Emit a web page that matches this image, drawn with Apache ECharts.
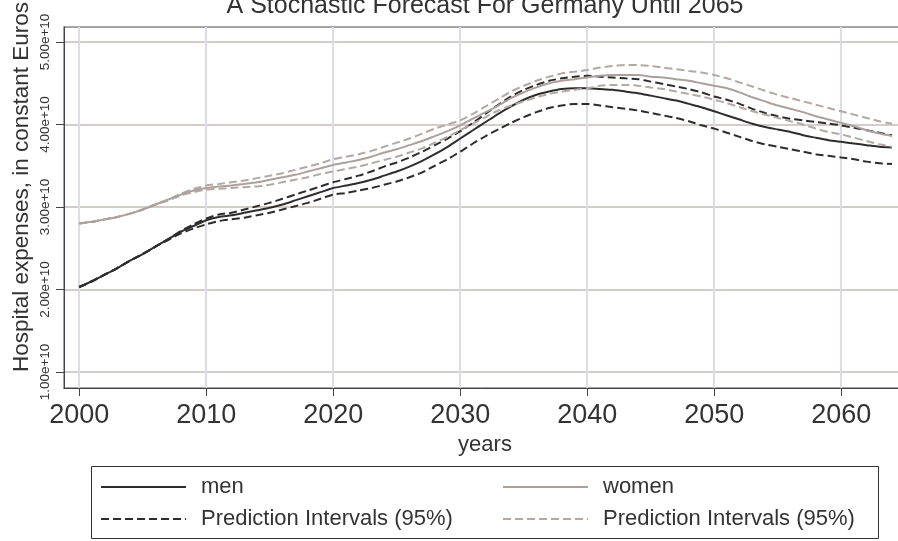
<!DOCTYPE html>
<html><head><meta charset="utf-8">
<script src="https://cdn.jsdelivr.net/npm/echarts@6/dist/echarts.min.js"></script>
<style>html,body{margin:0;padding:0;background:#fff}#c{width:898px;height:541px}</style>
</head><body><div id="c"></div>
<script>
// Years of the forecast
const years = [2000,2001,2002,2003,2004,2005,2006,2007,2008,2009,
  2010,2011,2012,2013,2014,2015,2016,2017,2018,2019,
  2020,2021,2022,2023,2024,2025,2026,2027,2028,2029,
  2030,2031,2032,2033,2034,2035,2036,2037,2038,2039,
  2040,2041,2042,2043,2044,2045,2046,2047,2048,2049,
  2050,2051,2052,2053,2054,2055,2056,2057,2058,2059,
  2060,2061,2062,2063,2064];

// Values in units of 1e10 constant Euros
const menMean = [2.03,2.10,2.18,2.26,2.35,2.43,2.52,2.61,2.70,2.77,
  2.84,2.88,2.90,2.93,2.96,2.99,3.03,3.08,3.13,3.18,
  3.23,3.26,3.29,3.33,3.38,3.43,3.49,3.56,3.64,3.73,
  3.83,3.93,4.03,4.13,4.22,4.30,4.36,4.40,4.43,4.44,
  4.44,4.43,4.42,4.40,4.38,4.35,4.32,4.29,4.25,4.21,
  4.16,4.11,4.06,4.01,3.97,3.94,3.91,3.87,3.84,3.81,
  3.79,3.77,3.75,3.73,3.72];
const menUpper = [2.03,2.10,2.18,2.26,2.35,2.43,2.52,2.61,2.71,2.79,
  2.86,2.91,2.93,2.97,3.01,3.05,3.10,3.15,3.20,3.25,
  3.30,3.34,3.38,3.43,3.49,3.54,3.60,3.67,3.75,3.83,
  3.92,4.02,4.13,4.24,4.34,4.42,4.48,4.53,4.56,4.58,
  4.59,4.58,4.57,4.56,4.55,4.52,4.49,4.46,4.43,4.39,
  4.34,4.30,4.25,4.19,4.14,4.10,4.07,4.05,4.03,4.01,
  3.99,3.96,3.93,3.90,3.87];
const menLower = [2.03,2.10,2.18,2.26,2.35,2.43,2.52,2.60,2.68,2.74,
  2.79,2.83,2.85,2.87,2.90,2.93,2.97,3.01,3.05,3.10,
  3.15,3.17,3.20,3.23,3.27,3.31,3.36,3.42,3.50,3.58,
  3.67,3.77,3.86,3.94,4.02,4.09,4.15,4.20,4.23,4.25,
  4.25,4.23,4.21,4.19,4.17,4.14,4.11,4.08,4.04,3.99,
  3.95,3.90,3.85,3.80,3.76,3.73,3.70,3.67,3.64,3.62,
  3.60,3.58,3.55,3.53,3.52];
const womenMean = [2.80,2.82,2.85,2.88,2.92,2.97,3.03,3.09,3.15,3.20,
  3.23,3.25,3.26,3.28,3.30,3.33,3.36,3.39,3.43,3.47,
  3.51,3.54,3.57,3.61,3.66,3.70,3.75,3.80,3.86,3.92,
  3.99,4.07,4.15,4.23,4.32,4.39,4.45,4.50,4.53,4.55,
  4.57,4.59,4.60,4.60,4.60,4.58,4.57,4.55,4.53,4.50,
  4.47,4.44,4.39,4.33,4.28,4.23,4.19,4.15,4.10,4.06,
  4.02,3.98,3.93,3.89,3.86];
const womenUpper = [2.80,2.82,2.85,2.88,2.92,2.97,3.03,3.09,3.16,3.22,
  3.26,3.28,3.30,3.32,3.35,3.38,3.41,3.45,3.49,3.53,
  3.58,3.61,3.64,3.68,3.73,3.78,3.83,3.89,3.95,4.00,
  4.05,4.13,4.22,4.31,4.40,4.47,4.53,4.58,4.62,4.64,
  4.66,4.69,4.71,4.72,4.72,4.71,4.69,4.67,4.65,4.63,
  4.60,4.56,4.51,4.46,4.41,4.36,4.32,4.28,4.24,4.20,
  4.16,4.12,4.08,4.04,4.01];
const womenLower = [2.80,2.82,2.85,2.88,2.92,2.97,3.03,3.08,3.14,3.18,
  3.21,3.22,3.23,3.24,3.25,3.27,3.30,3.33,3.36,3.40,
  3.43,3.46,3.49,3.53,3.57,3.61,3.66,3.71,3.78,3.85,
  3.93,4.01,4.09,4.17,4.23,4.28,4.33,4.37,4.40,4.42,
  4.44,4.47,4.48,4.48,4.47,4.45,4.43,4.40,4.37,4.34,
  4.30,4.26,4.21,4.16,4.12,4.08,4.04,4.00,3.95,3.91,
  3.88,3.84,3.80,3.76,3.73];

// Tick values and labels
const xTicks = [2000,2010,2020,2030,2040,2050,2060];
const xTickLabels = ['2000','2010','2020','2030','2040','2050','2060'];
const yTicks = [1,2,3,4,5];
const yTickLabels = ['1.00e+10','2.00e+10','3.00e+10','4.00e+10','5.00e+10'];

const TITLE = 'A Stochastic Forecast For Germany Until 2065';
const YTITLE = 'Hospital expenses, in constant Euros';
const XTITLE = 'years';
const PI = 'Prediction Intervals (95%)';

const FONT = "'Liberation Sans', Arial, Helvetica, sans-serif";
const TXT = '#333333';
const MEN = '#2d2d2d';
const WOMEN = '#aca09d';
const WOMEN_D = '#b3a8a5';
const DASH = [8, 4];
const HIDE_SYM = { color: 'rgba(0,0,0,0)', borderWidth: 0, opacity: 0 };

const pairs = vals => years.map((y, i) => [y, vals[i]]);
const pick = (ticks, labels, v) => {
  for (let i = 0; i < ticks.length; i++) if (Math.abs(ticks[i] - v) < 1e-6) return labels[i];
  return '';
};

function line(name, vals, color, dashed) {
  return {
    type: 'line', name: name, data: pairs(vals), symbol: 'none', showSymbol: false,
    smooth: 0.2, animation: false, silent: true,
    lineStyle: { color: color, width: 2, type: dashed ? DASH : 'solid' },
    itemStyle: { color: color },
    emphasis: { disabled: true }
  };
}

const legendBase = {
  top: 475, orient: 'vertical', itemWidth: 85, itemHeight: 14, itemGap: 8,
  padding: 0, selectedMode: false,
  itemStyle: HIDE_SYM,
  textStyle: { fontSize: 22, color: TXT, lineHeight: 24, padding: [0, 0, 0, 10], fontFamily: FONT }
};

const chart = echarts.init(document.getElementById('c'), null, { renderer: 'canvas' });
chart.setOption({
  animation: false,
  backgroundColor: '#ffffff',
  title: {
    text: TITLE, left: 485, top: -6, textAlign: 'center', padding: 0,
    textStyle: { fontSize: 25, fontWeight: 'normal', color: TXT, fontFamily: FONT }
  },
  grid: {
    left: 64, top: 27, width: 842, height: 361,
    show: true, borderColor: '#888888', borderWidth: 1.5,
    containLabel: false, outerBoundsMode: 'none'
  },
  xAxis: {
    type: 'value', min: 1998.8, max: 2065.1,
    name: XTITLE, nameLocation: 'middle', nameGap: 41,
    nameTextStyle: { fontSize: 22, color: TXT, fontFamily: FONT },
    axisLine: { show: true, onZero: false, lineStyle: { color: '#444444', width: 1 } },
    axisTick: { show: true, length: 8, customValues: xTicks, lineStyle: { color: '#444444', width: 1 } },
    axisLabel: {
      customValues: xTicks, fontSize: 27, color: TXT, margin: 14, fontFamily: FONT,
      formatter: v => pick(xTicks, xTickLabels, v)
    },
    splitLine: { show: true, lineStyle: { color: '#dddce4', width: 2 } }
  },
  yAxis: {
    type: 'value', min: 0.806, max: 5.182,
    axisLine: { show: true, onZero: false, lineStyle: { color: '#444444', width: 1 } },
    axisTick: { show: true, length: 8, customValues: yTicks, lineStyle: { color: '#444444', width: 1 } },
    axisLabel: {
      customValues: yTicks, rotate: 90, fontSize: 13.5, color: TXT, margin: 12, fontFamily: FONT,
      formatter: v => pick(yTicks, yTickLabels, v)
    },
    splitLine: { show: true, lineStyle: { color: '#d4ccc9', width: 2 } }
  },
  legend: [
    Object.assign({}, legendBase, {
      left: 100,
      data: [
        { name: 'men', itemStyle: HIDE_SYM, lineStyle: { color: MEN, type: 'solid', width: 2 } },
        { name: PI, itemStyle: HIDE_SYM, lineStyle: { color: MEN, type: DASH, width: 2 } }
      ]
    }),
    Object.assign({}, legendBase, {
      left: 502,
      data: [
        { name: 'women', itemStyle: HIDE_SYM, lineStyle: { color: WOMEN, type: 'solid', width: 2 } },
        { name: PI, itemStyle: HIDE_SYM, lineStyle: { color: WOMEN_D, type: DASH, width: 2 } }
      ]
    })
  ],
  graphic: [
    {
      type: 'text', x: 22, y: 187, rotation: Math.PI / 2, silent: true,
      style: { text: YTITLE, font: '22.5px ' + FONT, fill: TXT, align: 'center', verticalAlign: 'middle' }
    },
    {
      type: 'rect', silent: true,
      shape: { x: 91.5, y: 466.5, width: 787, height: 72 },
      style: { fill: 'none', stroke: '#333333', lineWidth: 1 }
    }
  ],
  series: [
    line(PI, menUpper, MEN, true),
    line(PI, menLower, MEN, true),
    line('men', menMean, MEN, false),
    line(PI, womenUpper, WOMEN_D, true),
    line(PI, womenLower, WOMEN_D, true),
    line('women', womenMean, WOMEN, false)
  ]
});
</script>
</body></html>
